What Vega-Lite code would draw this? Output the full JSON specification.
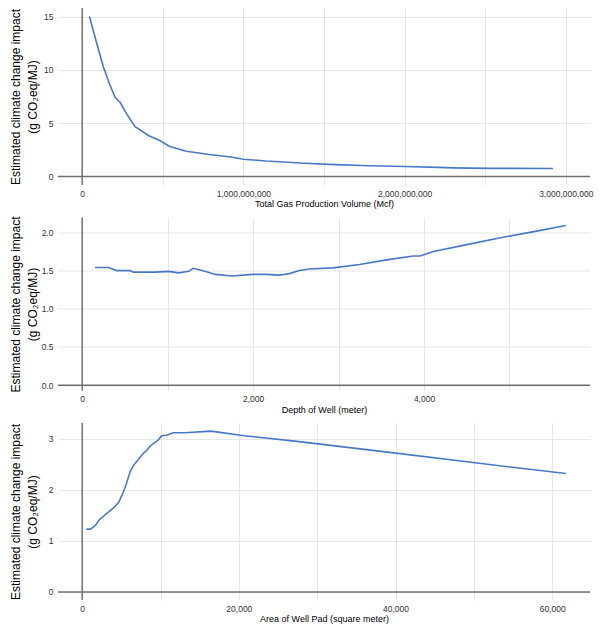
{
  "$schema": "https://vega.github.io/schema/vega-lite/v6.json",
  "padding": {"left": 8, "top": 7, "right": 8, "bottom": 5},
  "spacing": 32.5,
  "bounds": "flush",
  "datasets": {
    "gas": [
      {"x": 45000000, "y": 15.0}, {"x": 91000000, "y": 12.44}, {"x": 132000000, "y": 10.25},
      {"x": 169000000, "y": 8.69}, {"x": 204000000, "y": 7.43}, {"x": 235000000, "y": 6.96},
      {"x": 276000000, "y": 5.87}, {"x": 327000000, "y": 4.69}, {"x": 410000000, "y": 3.84},
      {"x": 481000000, "y": 3.37}, {"x": 543000000, "y": 2.81}, {"x": 646000000, "y": 2.37},
      {"x": 790000000, "y": 2.06}, {"x": 932000000, "y": 1.81}, {"x": 1000000000, "y": 1.62},
      {"x": 1140000000, "y": 1.45}, {"x": 1280000000, "y": 1.33}, {"x": 1350000000, "y": 1.27},
      {"x": 1530000000, "y": 1.13}, {"x": 1780000000, "y": 1.0}, {"x": 2000000000, "y": 0.94},
      {"x": 2210000000, "y": 0.85}, {"x": 2300000000, "y": 0.81}, {"x": 2530000000, "y": 0.76},
      {"x": 2920000000, "y": 0.75}
    ],
    "depth": [
      {"x": 150, "y": 1.54}, {"x": 306, "y": 1.54}, {"x": 404, "y": 1.5}, {"x": 561, "y": 1.5},
      {"x": 600, "y": 1.48}, {"x": 855, "y": 1.48}, {"x": 1012, "y": 1.49}, {"x": 1129, "y": 1.47},
      {"x": 1247, "y": 1.49}, {"x": 1298, "y": 1.53}, {"x": 1404, "y": 1.5}, {"x": 1561, "y": 1.45},
      {"x": 1757, "y": 1.43}, {"x": 1992, "y": 1.45}, {"x": 2149, "y": 1.45}, {"x": 2306, "y": 1.44},
      {"x": 2424, "y": 1.46}, {"x": 2541, "y": 1.5}, {"x": 2659, "y": 1.52}, {"x": 2933, "y": 1.535},
      {"x": 3247, "y": 1.58}, {"x": 3561, "y": 1.64}, {"x": 3874, "y": 1.69}, {"x": 3953, "y": 1.69},
      {"x": 4110, "y": 1.75}, {"x": 4502, "y": 1.84}, {"x": 4894, "y": 1.93}, {"x": 5286, "y": 2.01},
      {"x": 5659, "y": 2.09}
    ],
    "pad": [
      {"x": 547, "y": 1.23}, {"x": 1095, "y": 1.23}, {"x": 1726, "y": 1.31}, {"x": 2148, "y": 1.41},
      {"x": 2990, "y": 1.52}, {"x": 4043, "y": 1.65}, {"x": 4675, "y": 1.76}, {"x": 5180, "y": 1.93},
      {"x": 5517, "y": 2.06}, {"x": 6149, "y": 2.37}, {"x": 6570, "y": 2.48}, {"x": 7201, "y": 2.6},
      {"x": 7833, "y": 2.72}, {"x": 8254, "y": 2.77}, {"x": 8675, "y": 2.86}, {"x": 9728, "y": 2.98},
      {"x": 10149, "y": 3.06}, {"x": 10781, "y": 3.07}, {"x": 11623, "y": 3.12}, {"x": 13097, "y": 3.12},
      {"x": 16466, "y": 3.15}, {"x": 20682, "y": 3.06}, {"x": 27417, "y": 2.95}, {"x": 40050, "y": 2.72},
      {"x": 50158, "y": 2.53}, {"x": 61743, "y": 2.32}
    ]
  },
  "vconcat": [
    {
      "width": 532, "height": 177,
      "layer": [
        {
          "data": {"name": "gas"},
          "mark": {"type": "line", "color": "#4a78c9", "strokeWidth": 1.6},
          "encoding": {
            "x": {"field": "x", "type": "quantitative",
              "scale": {"domain": [-150000000, 3150000000], "nice": false, "zero": false},
              "axis": {"title": "Total Gas Production Volume (Mcf)", "grid": true,
                "values": [0, 500000000, 1000000000, 1500000000, 2000000000, 2500000000, 3000000000],
                "labelExpr": "datum.value % 1000000000 === 0 ? format(datum.value, ',') : ''"}},
            "y": {"field": "y", "type": "quantitative",
              "scale": {"domain": [-0.8, 15.8], "nice": false, "zero": false},
              "axis": {"title": ["Estimated climate change impact", "(g CO₂eq/MJ)"], "grid": true,
                "values": [0, 2.5, 5, 7.5, 10, 12.5, 15],
                "labelExpr": "datum.value % 5 === 0 ? format(datum.value, 'd') : ''"}}
          }
        },
        {"data": {"values": [{}]}, "mark": {"type": "rule", "color": "#707070", "strokeWidth": 1.5}, "encoding": {"y": {"datum": 0, "type": "quantitative"}}},
        {"data": {"values": [{}]}, "mark": {"type": "rule", "color": "#707070", "strokeWidth": 1.5}, "encoding": {"x": {"datum": 0, "type": "quantitative"}}}
      ]
    },
    {
      "width": 532, "height": 173,
      "layer": [
        {
          "data": {"name": "depth"},
          "mark": {"type": "line", "color": "#4a78c9", "strokeWidth": 1.6},
          "encoding": {
            "x": {"field": "x", "type": "quantitative",
              "scale": {"domain": [-283, 5942], "nice": false, "zero": false},
              "axis": {"title": "Depth of Well (meter)", "grid": true,
                "values": [0, 1000, 2000, 3000, 4000, 5000],
                "labelExpr": "datum.value % 2000 === 0 ? format(datum.value, ',') : ''"}},
            "y": {"field": "y", "type": "quantitative",
              "scale": {"domain": [-0.07, 2.195], "nice": false, "zero": false},
              "axis": {"title": ["Estimated climate change impact", "(g CO₂eq/MJ)"], "grid": true,
                "values": [0, 0.25, 0.5, 0.75, 1, 1.25, 1.5, 1.75, 2],
                "labelExpr": "datum.value % 0.5 === 0 ? format(datum.value, '.1f') : ''"}}
          }
        },
        {"data": {"values": [{}]}, "mark": {"type": "rule", "color": "#707070", "strokeWidth": 1.5}, "encoding": {"y": {"datum": 0, "type": "quantitative"}}},
        {"data": {"values": [{}]}, "mark": {"type": "rule", "color": "#707070", "strokeWidth": 1.5}, "encoding": {"x": {"datum": 0, "type": "quantitative"}}}
      ]
    },
    {
      "width": 532, "height": 177,
      "layer": [
        {
          "data": {"name": "pad"},
          "mark": {"type": "line", "color": "#4a78c9", "strokeWidth": 1.6},
          "encoding": {
            "x": {"field": "x", "type": "quantitative",
              "scale": {"domain": [-3087, 64830], "nice": false, "zero": false},
              "axis": {"title": "Area of Well Pad (square meter)", "grid": true,
                "values": [0, 10000, 20000, 30000, 40000, 50000, 60000],
                "labelExpr": "datum.value % 20000 === 0 ? format(datum.value, ',') : ''"}},
            "y": {"field": "y", "type": "quantitative",
              "scale": {"domain": [-0.158, 3.31], "nice": false, "zero": false},
              "axis": {"title": ["Estimated climate change impact", "(g CO₂eq/MJ)"], "grid": true,
                "values": [0, 0.5, 1, 1.5, 2, 2.5, 3],
                "labelExpr": "datum.value % 1 === 0 ? format(datum.value, 'd') : ''"}}
          }
        },
        {"data": {"values": [{}]}, "mark": {"type": "rule", "color": "#707070", "strokeWidth": 1.5}, "encoding": {"y": {"datum": 0, "type": "quantitative"}}},
        {"data": {"values": [{}]}, "mark": {"type": "rule", "color": "#707070", "strokeWidth": 1.5}, "encoding": {"x": {"datum": 0, "type": "quantitative"}}}
      ]
    }
  ],
  "config": {
    "view": {"stroke": null},
    "axis": {
      "domain": false, "ticks": false, "grid": true,
      "labelFont": "Liberation Sans", "labelFontSize": 8.5, "labelColor": "#333333",
      "titleFont": "Liberation Sans", "titleFontWeight": "normal", "titleColor": "#000000",
      "gridColor": "#e6e6e6", "gridWidth": 1
    },
    "axisX": {"labelPadding": 4, "titleFontSize": 9, "titlePadding": 2},
    "axisY": {"labelPadding": 5, "titleFontSize": 12, "titleLineHeight": 17, "titleX": -36}
  }
}
